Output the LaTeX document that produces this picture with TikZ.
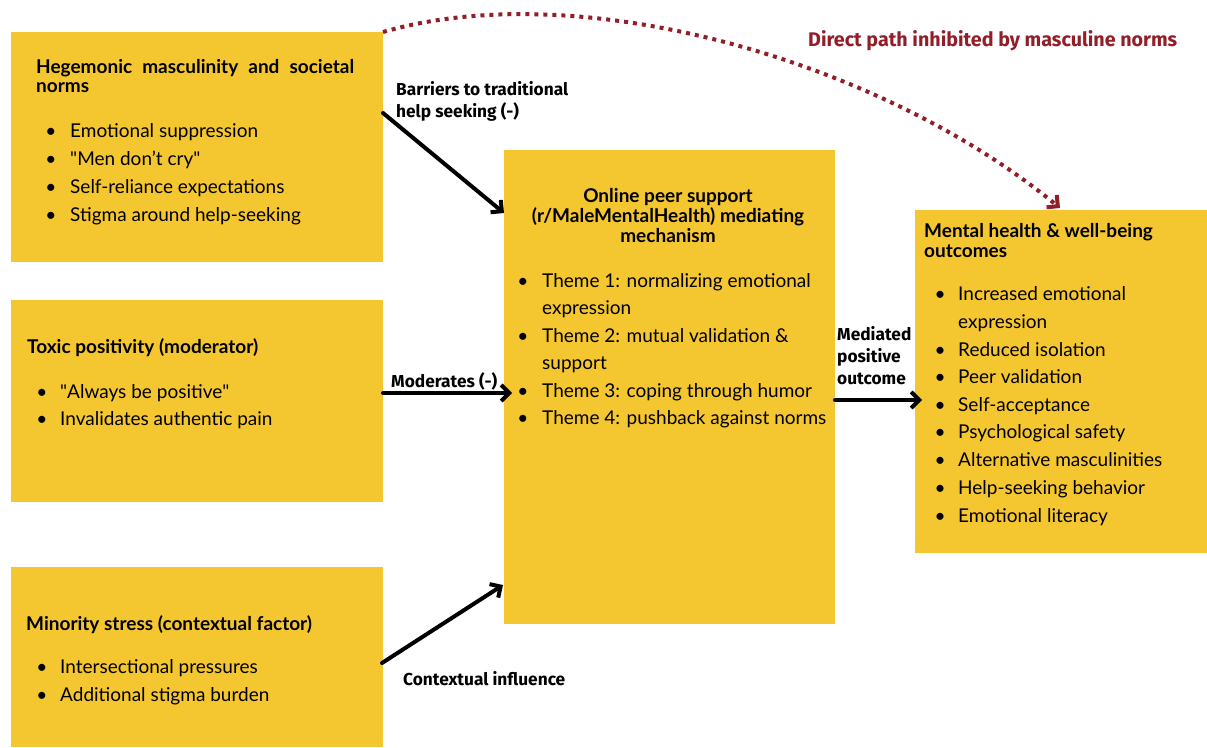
\documentclass[tikz,border=0pt]{standalone}
\usepackage{fontspec}
\setmainfont{Lato}
\newfontfamily\qfont{Lato}[Ligatures=TeXOff]
\newfontfamily\lblfont{Fira Sans}
\usetikzlibrary{arrows.meta,calc}
\definecolor{boxyellow}{RGB}{244,198,48}
\definecolor{pathred}{RGB}{145,30,40}
\tikzset{
  box/.style={fill=boxyellow, draw=none, anchor=north west, inner sep=0pt, outer sep=0pt},
  head/.style={anchor=base west, inner sep=0pt, font=\fontsize{19}{20}\selectfont\bfseries},
  headc/.style={head, anchor=base},
  btext/.style={anchor=base west, inner sep=0pt, font=\fontsize{19}{28}\selectfont},
  bdot/.style={anchor=base, inner sep=0pt, font=\fontsize{19}{28}\selectfont},
  lbl/.style={anchor=base west, inner sep=0pt, font=\lblfont\fontsize{17.3}{20}\selectfont\bfseries},
  redlbl/.style={lbl, text=pathred, font=\lblfont\fontsize{19.7}{20}\selectfont\bfseries},
  conn/.style={line width=4pt, line cap=round, -{Straight Barb[length=8pt,width=16pt]}},
  redpath/.style={draw=pathred, line width=4pt, dash pattern=on 4pt off 5pt, -{Straight Barb[length=8pt,width=16pt]}},
}
\newcommand\bul[5]{%
  \node[bdot] (#1d) at (#2,#4) {\textbullet};
  \node[btext] (#1) at (#3,#4) {#5};}
\newcommand\cont[4]{%
  \node[btext] (#1) at (#2,#3) {#4};}
\newcommand\sq{{\qfont\symbol{34}}}
\begin{document}
\begin{tikzpicture}[x=1pt,y=-1pt]
\useasboundingbox (0,0) rectangle (1207,747);
\fill[white] (0,0) rectangle (1207,747);

% boxes
\node[box, minimum width=372pt, minimum height=230pt] (b1) at (11,32) {};
\node[box, minimum width=372pt, minimum height=202pt] (b2) at (11,300) {};
\node[box, minimum width=372pt, minimum height=180pt] (b3) at (11,567) {};
\node[box, minimum width=331pt, minimum height=474pt] (c) at (504,150) {};
\node[box, minimum width=292pt, minimum height=343pt] (r) at (915,210) {};

% box 1
\node[head] (h1a) at (36,73) {\makebox[318pt][s]{Hegemonic masculinity and societal}};
\node[head] (h1b) at (36,92) {norms};
\bul{b1i1}{51}{70}{137}{Emotional suppression}
\bul{b1i2}{51}{70}{165}{\sq Men don’t cry\sq}
\bul{b1i3}{51}{70}{193}{Self-reliance expectations}
\bul{b1i4}{51}{70}{221}{Stigma around help-seeking}

% box 2
\node[head] (h2) at (27,353) {Toxic positivity (moderator)};
\bul{b2i1}{42}{60}{398}{\sq Always be positive\sq}
\bul{b2i2}{42}{60}{425}{Invalidates authentic pain}

% box 3
\node[head] (h3) at (26,630) {Minority stress (contextual factor)};
\bul{b3i1}{42}{60}{673}{Intersectional pressures}
\bul{b3i2}{42}{60}{701}{Additional stigma burden}

% centre box
\node[headc] (hca) at (668,202) {Online peer support};
\node[headc] (hcb) at (668,222) {(r/MaleMentalHealth) mediating};
\node[headc] (hcc) at (668,242) {mechanism};
\bul{ci1}{523}{542}{287}{Theme 1: normalizing emotional}
\cont{ci1b}{542}{314.5}{expression}
\bul{ci2}{523}{542}{342}{Theme 2: mutual validation \&}
\cont{ci2b}{542}{369.5}{support}
\bul{ci3}{523}{542}{397}{Theme 3: coping through humor}
\bul{ci4}{523}{542}{424.5}{Theme 4: pushback against norms}

% right box
\node[head] (hra) at (924,237) {Mental health \& well-being};
\node[head] (hrb) at (924,257) {outcomes};
\bul{ri1}{940}{958}{300}{Increased emotional}
\cont{ri1b}{958}{328}{expression}
\bul{ri2}{940}{958}{356}{Reduced isolation}
\bul{ri3}{940}{958}{383}{Peer validation}
\bul{ri4}{940}{958}{411}{Self-acceptance}
\bul{ri5}{940}{958}{438}{Psychological safety}
\bul{ri6}{940}{958}{466}{Alternative masculinities}
\bul{ri7}{940}{958}{494}{Help-seeking behavior}
\bul{ri8}{940}{958}{522}{Emotional literacy}

% connectors
\draw[conn] ($(b1.north east)+(0,81)$) -- ($(c.north west)+(0,63)$);
\draw[conn] ($(b2.east)+(0,-8)$) -- ($(c.west)+(8,6)$);
\draw[conn] ($(b3.east)+(-1,6)$) -- ($(c.south west)+(-1,-39)$);
\draw[conn] ($(c.east)+(0,13)$) -- ($(r.west)+(7,18.5)$);
\draw[redpath] (b1.north east) .. controls (580,-25) and (880,60) .. ($(r.north west)+(145,-2)$);

% labels
\node[lbl] (l1a) at (396,95) {Barriers to traditional};
\node[lbl] (l1b) at (396,117) {help seeking (-)};
\node[lbl] (l2) at (391,387) {Moderates (-)};
\node[lbl] (l3) at (403,685) {Contextual influence};
\node[lbl] (l4a) at (837,340) {Mediated};
\node[lbl] (l4b) at (837,362) {positive};
\node[lbl] (l4c) at (837,384) {outcome};
\node[redlbl] (l5) at (808,46) {Direct path inhibited by masculine norms};
\end{tikzpicture}
\end{document}
